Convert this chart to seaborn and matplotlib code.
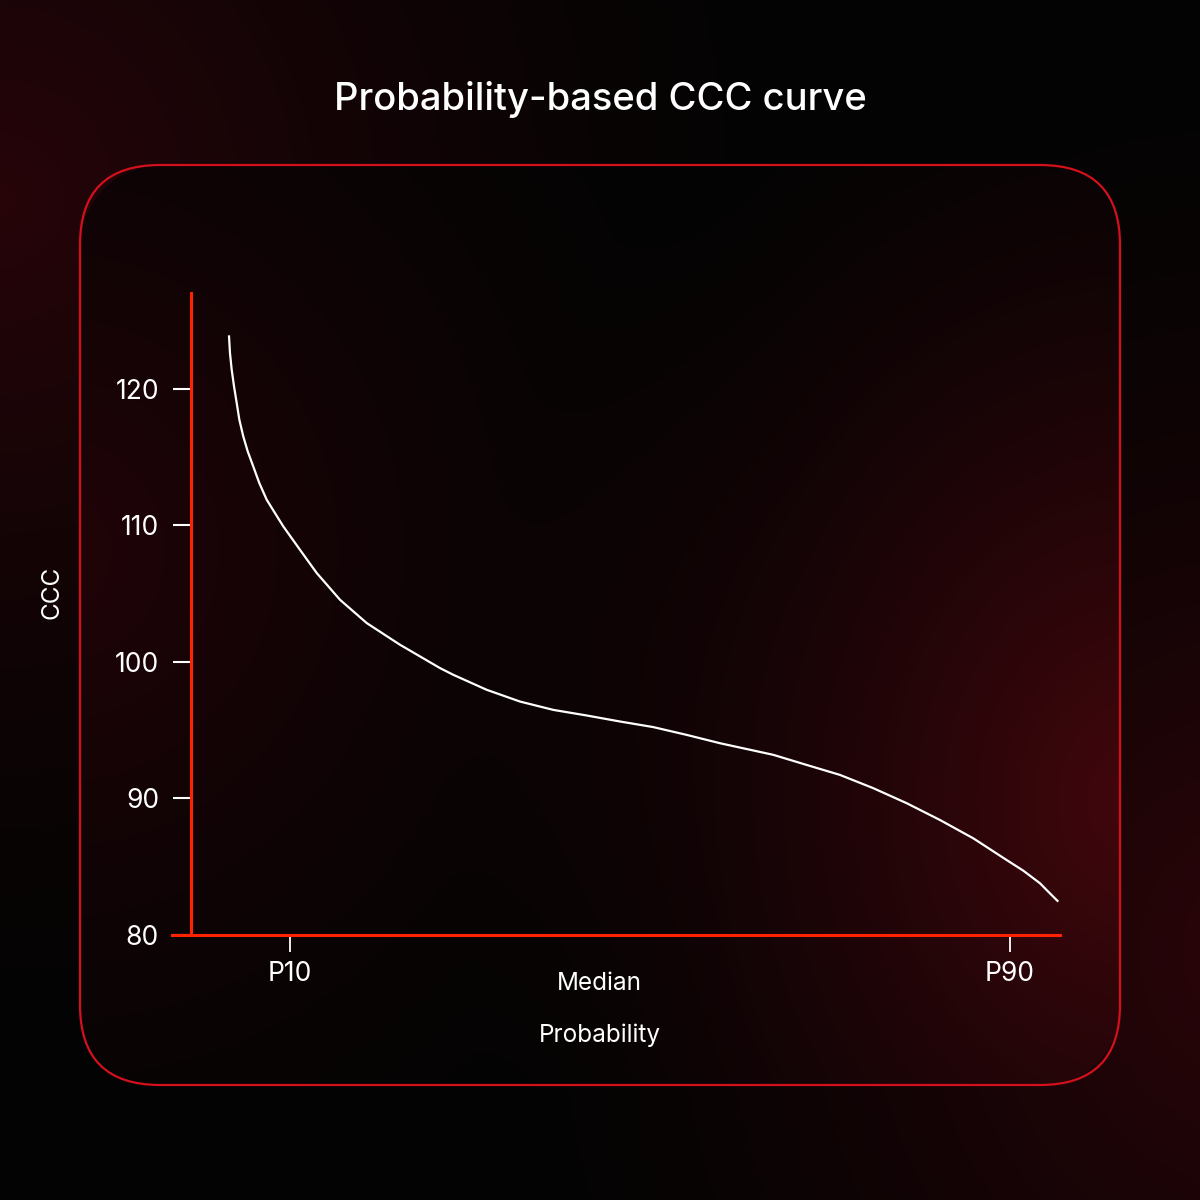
import numpy as np
import pandas as pd
import matplotlib.pyplot as plt
import seaborn as sns
from matplotlib.patches import FancyBboxPatch

# values (x in percentile units, y = CCC)
prob = [3.22, 3.33, 3.52, 3.78, 4.08, 4.37, 4.81, 5.30, 5.92, 6.59, 7.41, 8.33, 9.26,
        11.11, 12.97, 15.56, 18.52, 22.22, 26.67, 28.14, 31.86, 35.56, 39.26, 42.97,
        46.67, 50.37, 54.08, 57.78, 63.70, 67.41, 71.11, 74.81, 78.52, 82.22, 85.92,
        89.63, 91.48, 93.33, 94.44, 95.37]
ccc = [123.9, 122.62, 121.4, 120.17, 118.95, 117.73, 116.5, 115.41, 114.3, 113.09, 111.87,
       110.89, 109.91, 108.2, 106.5, 104.54, 102.84, 101.25, 99.54, 99.05, 97.95, 97.09,
       96.48, 96.07, 95.63, 95.22, 94.65, 94.04, 93.19, 92.45, 91.72, 90.75, 89.65,
       88.42, 87.08, 85.49, 84.71, 83.79, 83.05, 82.44]
y_ticks = [80, 90, 100, 110, 120]
x_ticks = [10, 90]
x_tick_labels = ['P10', 'P90']
median_pos = 44.4
title = 'Probability-based CCC curve'

df = pd.DataFrame({'prob': prob, 'ccc': ccc})

sns.set_theme(style='white')
plt.rcParams['font.family'] = ['Inter', 'DejaVu Sans']

W = H = 1200
fig = plt.figure(figsize=(12, 12), dpi=100)
fig.patch.set_facecolor('black')

# ---- background gradient (figure pixels, y down) ----
yy, xx = np.mgrid[0:H, 0:W].astype(float)

def glow(cx, cy, rx, ry, p=1.5):
    d = np.sqrt(((xx - cx) / rx) ** 2 + ((yy - cy) / ry) ** 2)
    return np.clip(1 - d, 0, 1) ** p

outer = (glow(0, 200, 850, 900)[..., None] * np.array([36, 2, 6])
         + glow(1250, 950, 800, 950)[..., None] * np.array([40, 2, 6]))
inner = (glow(1140, 800, 700, 850)[..., None] * np.array([64, 4, 10])
         + glow(60, 550, 750, 800)[..., None] * np.array([30, 1, 5]))

# rounded-rect mask for the card
bx0, by0, bx1, by1, rad = 80, 165, 1120, 1085, 80
qx = np.clip(np.abs(xx - (bx0 + bx1) / 2) - ((bx1 - bx0) / 2 - rad), 0, None)
qy = np.clip(np.abs(yy - (by0 + by1) / 2) - ((by1 - by0) / 2 - rad), 0, None)
inside = (np.sqrt(qx ** 2 + qy ** 2) <= rad)[..., None]
img = np.where(inside, inner, outer) + 3
img = np.clip(img, 0, 255).astype(np.uint8)

bg = fig.add_axes([0, 0, 1, 1], zorder=-10)
bg.imshow(img, extent=(0, W, H, 0), aspect='auto', interpolation='bilinear')
bg.set_xlim(0, W)
bg.set_ylim(H, 0)
bg.axis('off')

card = FancyBboxPatch((bx0 + rad, by0 + rad), (bx1 - bx0) - 2 * rad, (by1 - by0) - 2 * rad,
                      boxstyle='round,pad=%d' % rad, transform=bg.transData,
                      facecolor='none', edgecolor='#d4101c', linewidth=1.6)
bg.add_patch(card)

# ---- chart ----
ax = fig.add_axes([172 / W, 1 - 935 / H, 888 / W, 642 / H])
ax.set_facecolor('none')
sns.lineplot(data=df, x='prob', y='ccc', color='white', linewidth=1.6, ax=ax)
for ln in ax.lines:
    ln.set_solid_joinstyle('round')
    ln.set_solid_capstyle('butt')

ax.set_xlim(-3.11, 95.56)
ax.set_ylim(80, 127.0)

red = '#ff2200'
for s in ['top', 'right']:
    ax.spines[s].set_visible(False)
ax.spines['left'].set_position(('data', -1.0))
ax.spines['left'].set_color(red)
ax.spines['bottom'].set_color(red)
ax.spines['left'].set_linewidth(2.2)
ax.spines['bottom'].set_linewidth(2.2)

ax.set_yticks(y_ticks)
ax.set_yticklabels([str(v) for v in y_ticks])
ax.set_xticks(x_ticks)
ax.set_xticklabels(x_tick_labels)
ax.set_xticks([median_pos], minor=True)
ax.set_xticklabels(['Median'], minor=True)

ax.tick_params(axis='y', which='major', left=True, length=13, width=1.5, color='white',
               labelcolor='white', labelsize=19, pad=10)
ax.tick_params(axis='x', which='major', bottom=True, length=12, width=1.3, color='white',
               labelcolor='white', labelsize=19, pad=7)
ax.tick_params(axis='x', which='minor', bottom=True, length=0, labelcolor='white',
               labelsize=17.5, pad=27)

ax.set_xlabel('Probability', color='white', fontsize=17.5)
ax.set_ylabel('CCC', color='white', fontsize=17.5)
ax.xaxis.set_label_coords((600 - 172) / 888, -(1035 - 935) / 642)
ax.yaxis.set_label_coords(-(172 - 52) / 888, (935 - 592) / 642)
ax.xaxis.label.set_va('center')
ax.yaxis.label.set_va('center')

fig.text(0.5, 1 - 100 / H, title, ha='center', va='center', color='white',
         fontsize=27.5, fontweight='medium')

fig.savefig('out.png', dpi=100, facecolor=fig.get_facecolor())
